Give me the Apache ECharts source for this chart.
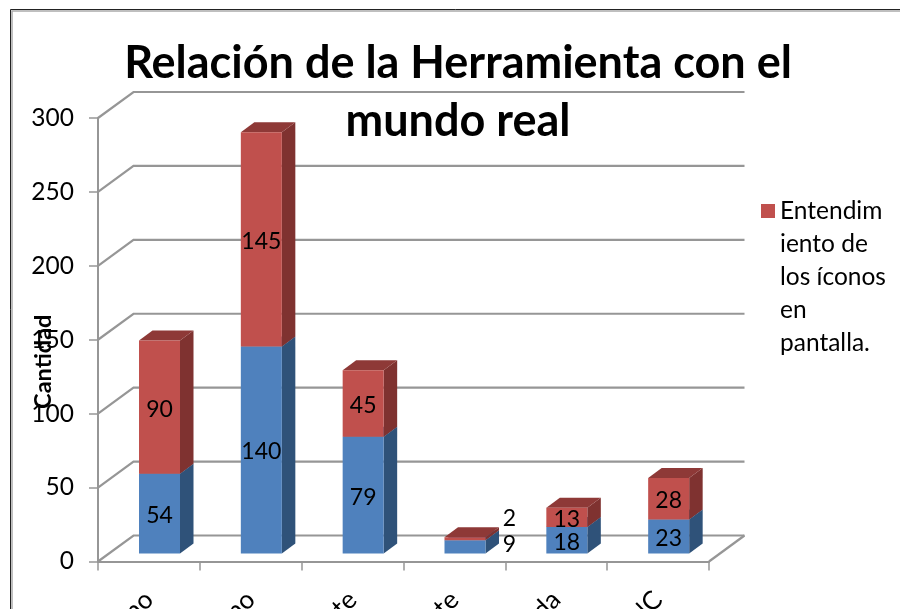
<!DOCTYPE html>
<html>
<head>
<meta charset="utf-8">
<style>html,body{margin:0;padding:0;background:#fff;overflow:hidden}#c{width:900px;height:609px}</style>
<script src="https://cdn.jsdelivr.net/npm/echarts@6/dist/echarts.min.js"></script>
</head>
<body>
<div id="c"></div>
<script>
const categories = ['Muy bueno', 'Bueno', 'Suficiente', 'Deficiente', 'Nada', 'NS/NC'];
const blueValues = [54, 140, 79, 9, 18, 23];
const redValues = [90, 145, 45, 2, 13, 28];
const yTicks = [0, 50, 100, 150, 200, 250, 300];
const legendLines = ['Entendim', 'iento de', 'los íconos', 'en', 'pantalla.'];
const seriesRedName = 'Entendimiento de los íconos en pantalla.';

// 3D appearance (pixels)
const depthX = 35.5, depthY = 26;   // wall depth
const barDX = 13.5, barDY = 10;     // bar side depth
const barInset = 41, barOffY = 8;   // bar shift from the front axis
const barW = 41;
const gridCol = '#969696';
const font = 'Lato, Carlito, "Open Sans", sans-serif';
const labelShift = { '3': { blue: [44.5, -4], red: [44.5, -22] } };

function wallItem(params, api) {
  const v = api.value(0);
  const p = api.coord([0, v]);
  const left = params.coordSys.x, right = left + params.coordSys.width;
  const y = p[1];
  const pts = [[left, y], [left + depthX, y - depthY], [right + depthX, y - depthY]];
  const children = [{ type: 'polyline', shape: { points: pts },
    style: { stroke: gridCol, lineWidth: 2.2, fill: null } }];
  if (v === 0) {
    children.push({ type: 'line', shape: { x1: right, y1: y, x2: right + depthX, y2: y - depthY },
      style: { stroke: gridCol, lineWidth: 2.2 } });
  }
  return { type: 'group', children };
}

function barRenderer(front, side, top, key) {
  return function (params, api) {
    const i = api.value(0), lo = api.value(1), hi = api.value(2);
    const c = api.coord([i, hi]), b = api.coord([i, lo]);
    const band = api.size([1, 0])[0];
    const x0 = c[0] - band / 2 + barInset;
    const x1 = x0 + barW;
    const yT = c[1] - barOffY, yB = b[1] - barOffY;
    const shift = (labelShift[i] && labelShift[i][key]) || [0, 0];
    return { type: 'group', children: [
      { type: 'polygon', shape: { points: [[x1, yT], [x1 + barDX, yT - barDY], [x1 + barDX, yB - barDY], [x1, yB]] }, style: { fill: side } },
      { type: 'polygon', shape: { points: [[x0, yT], [x0 + barDX, yT - barDY], [x1 + barDX, yT - barDY], [x1, yT]] }, style: { fill: top } },
      { type: 'rect', shape: { x: x0, y: yT, width: barW, height: yB - yT }, style: { fill: front } },
      { type: 'text', x: (x0 + x1) / 2 + shift[0], y: (yT + yB) / 2 + shift[1] + 2,
        style: { text: String(hi - lo), fill: '#000', font: '23px ' + font, align: 'center', verticalAlign: 'middle' } }
    ] };
  };
}

const blueData = categories.map((_, i) => [i, 0, blueValues[i]]);
const redData = categories.map((_, i) => [i, blueValues[i], blueValues[i] + redValues[i]]);

const option = {
  animation: false,
  backgroundColor: '#fff',
  title: {
    text: 'Relación de la Herramienta con el\nmundo real',
    left: 453, top: 29, textAlign: 'center',
    textStyle: { fontFamily: font, fontWeight: 'bold', fontSize: 45, lineHeight: 58, color: '#000' }
  },
  legend: {
    data: [seriesRedName],
    left: 756, top: 190,
    orient: 'vertical',
    itemWidth: 14, itemHeight: 165, itemGap: 0,
    icon: 'path://M0 9H14V23H0Z M0 0H14 M0 165H14',
    formatter: () => legendLines.join('\n'),
    textStyle: { fontFamily: font, fontSize: 24.5, lineHeight: 33, color: '#000' }
  },
  grid: { left: 98, right: 191, top: 118, bottom: 47.5, outerBoundsMode: 'none' },
  xAxis: {
    type: 'category', data: categories,
    axisLine: { lineStyle: { color: gridCol, width: 2.2 } },
    axisTick: { show: true, alignWithLabel: false, length: 9, lineStyle: { color: gridCol, width: 1.5 } },
    axisLabel: { interval: 0, rotate: 45, margin: 34, color: '#000', fontFamily: font, fontSize: 26 }
  },
  yAxis: {
    type: 'value', min: 0, max: 300, interval: 50,
    name: 'Cantidad', nameLocation: 'middle', nameGap: 43, nameRotate: 90, nameMoveOverlap: false,
    nameTextStyle: { fontFamily: font, fontWeight: 'bold', fontSize: 23.5, color: '#000', padding: [0, 44, 0, 0] },
    axisLine: { show: true, lineStyle: { color: gridCol, width: 2 } },
    axisTick: { show: true, length: 9, lineStyle: { color: gridCol, width: 1.5 } },
    axisLabel: { margin: 24, color: '#000', fontFamily: font, fontSize: 24.5 },
    splitLine: { show: false }
  },
  series: [
    { type: 'custom', name: 'walls', silent: true, z: 1, data: yTicks.map(v => [v]),
      renderItem: wallItem, encode: { y: 0 } },
    { type: 'custom', name: 'Serie 1', z: 2, data: blueData, itemStyle: { color: '#4F81BD' },
      renderItem: barRenderer('#4F81BD', '#2F5279', '#3C648F', 'blue'), encode: { x: 0, y: [1, 2] } },
    { type: 'custom', name: seriesRedName, z: 3, data: redData, itemStyle: { color: '#C0504D' },
      renderItem: barRenderer('#C0504D', '#7F3230', '#8E3937', 'red'), encode: { x: 0, y: [1, 2] } }
  ],
  graphic: [
    { type: 'rect', silent: true, z: 100, shape: { x: 10.5, y: 9.5, width: 1000, height: 800 }, style: { fill: null, stroke: '#222', lineWidth: 1 } },
    { type: 'rect', silent: true, z: 100, shape: { x: 12, y: 11, width: 1000, height: 800 }, style: { fill: null, stroke: '#aaa', lineWidth: 1.5 } }
  ]
};
const chart = echarts.init(document.getElementById('c'), null, { renderer: 'canvas' });
chart.setOption(option);
</script>
</body>
</html>
